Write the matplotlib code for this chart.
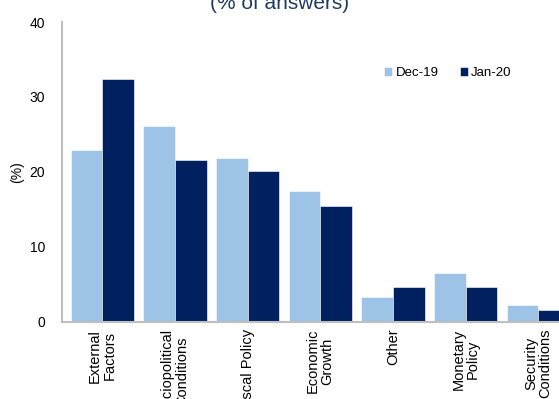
import matplotlib
matplotlib.use("Agg")
import matplotlib.pyplot as plt
import numpy as np

plt.rcParams['font.family'] = ['Liberation Sans', 'DejaVu Sans']

categories = ["External\nFactors", "Sociopolitical\nConditions", "Fiscal Policy",
              "Economic\nGrowth", "Other", "Monetary\nPolicy", "Security\nConditions"]
dec19 = [22.9, 26.1, 21.8, 17.4, 3.3, 6.5, 2.2]
jan20 = [32.4, 21.6, 20.1, 15.5, 4.6, 4.6, 1.5]
series_names = ["Dec-19", "Jan-20"]
yticks = [0, 10, 20, 30, 40]

light = "#9DC3E6"
dark = "#002060"

W, H = 559, 399
fig = plt.figure(figsize=(W / 100, H / 100), dpi=100)
ax = fig.add_axes([62 / W, 1 - 321.7 / H, 1 - 62 / W, (321.7 - 22) / H])

x = np.arange(len(categories))
bw = 0.435
b1 = ax.bar(x - bw / 2, dec19, bw, color=light, edgecolor="white", linewidth=0.4, label=series_names[0])
b2 = ax.bar(x + bw / 2, jan20, bw, color=dark, edgecolor="white", linewidth=0.4, label=series_names[1])

ax.set_xlim(-0.555, 6.285)
ax.set_ylim(0, 40)
ax.set_yticks(yticks)
ax.set_xticks(x)
ax.set_xticklabels(categories, rotation=90, fontsize=10.5)
for lbl in ax.get_xticklabels():
    lbl.set_rotation_mode("anchor")
    lbl.set_ha("right")
    lbl.set_va("center")
    lbl.set_multialignment("center")
    lbl.set_linespacing(1.05)
ax.tick_params(axis="both", length=0, colors="#000000")
ax.tick_params(axis="y", labelsize=10, pad=12)
ax.tick_params(axis="x", pad=5)
for s in ("top", "right"):
    ax.spines[s].set_visible(False)
for s in ("left", "bottom"):
    ax.spines[s].set_color("#BFBFBF")
    ax.spines[s].set_linewidth(1.5)
ax.set_ylabel("(%)", fontsize=10, labelpad=4)

fig.text(0.5, 1 - 9 / H, "(% of answers)", ha="center", va="baseline",
         fontsize=15, color="#1F3A60")

fig.legend(handles=[b1, b2], labels=series_names, loc="center",
           bbox_to_anchor=(448 / W, 1 - 73 / H), ncol=2, frameon=False,
           fontsize=9.5, handlelength=0.6, handleheight=0.6,
           handletextpad=0.25, columnspacing=1.6)

fig.savefig("out.png", dpi=100)
